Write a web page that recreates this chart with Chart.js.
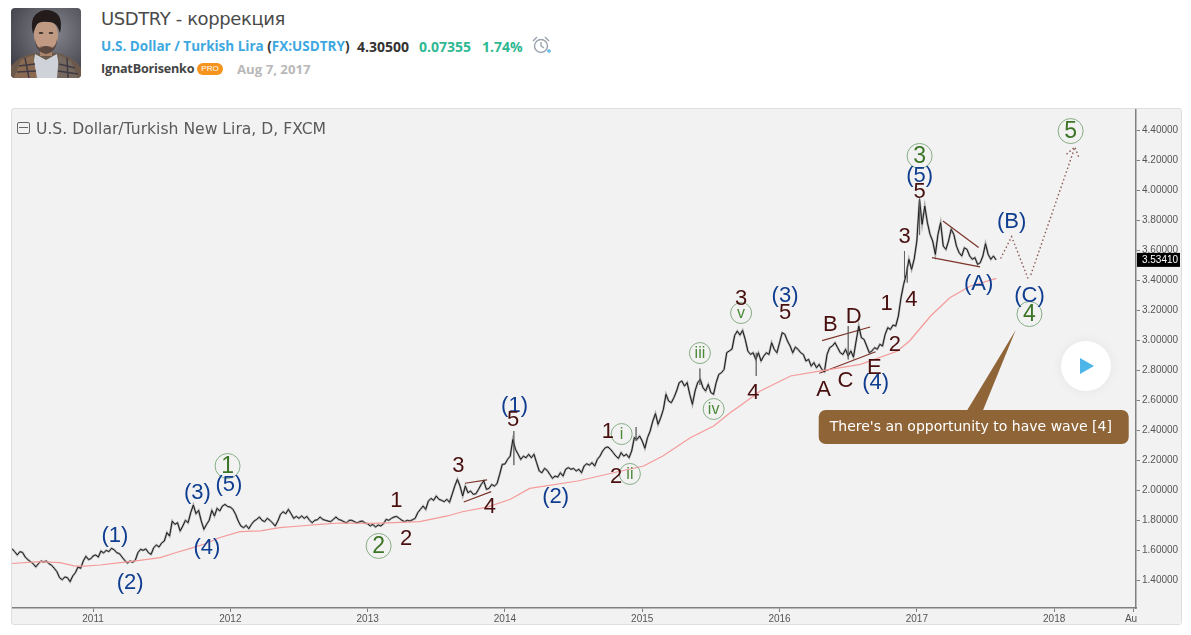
<!DOCTYPE html>
<html>
<head>
<meta charset="utf-8">
<title>USDTRY - коррекция</title>
<script src="https://cdn.jsdelivr.net/npm/chart.js@4"></script>
<style>
  html, body { margin: 0; padding: 0; background: #fff; }
  body { width: 1191px; height: 635px; position: relative; overflow: hidden; font-family: 'DejaVu Sans', sans-serif; }
  .abs { position: absolute; white-space: nowrap; }
  #avatar { left: 11px; top: 8px; width: 70px; height: 70px; border-radius: 4px; overflow: hidden; }
  #title { left: 101px; top: 8px; font-size: 18px; color: #4a4a4a; letter-spacing: -0.4px; }
  .sub { top: 37px; font-size: 13.5px; font-weight: bold; color: #333; font-family: 'Open Sans', sans-serif; }
  .sub .blue { color: #3ea8e0; }
  .big { font-size: 14px; }
  .green { color: #2fb893; }
  #user { left: 101px; top: 60px; font-size: 12.6px; font-weight: bold; color: #444; font-family: 'Open Sans', sans-serif; letter-spacing: -0.2px; }
  #pro { left: 197px; top: 63px; width: 26px; height: 12px; border-radius: 6px; background: #f7941d; color: #fff; font-size: 8px; line-height: 12px; text-align: center; font-family: 'Liberation Sans', sans-serif; }
  #when { left: 237px; top: 60px; font-size: 13.2px; font-weight: bold; color: #b8b8b8; font-family: 'Open Sans', sans-serif; }
  #alarm { left: 532px; top: 36px; }
  #panel { left: 11px; top: 108px; width: 1169px; height: 515px; background: #f2f2f2; border: 1px solid #dedede; border-radius: 3px; }
  #chart { position: absolute; left: 12px; top: 109px; }
  #collapse { left: 17px; top: 122px; width: 11px; height: 10px; border: 1px solid #666; border-radius: 2px; }
  #collapse div { position: absolute; left: 1px; right: 1px; top: 4px; height: 1px; background: #666; }
  #symbol { left: 36px; top: 120px; font-size: 15.6px; color: #5a5a5a; }
  #play { left: 1061px; top: 341px; width: 50px; height: 50px; border-radius: 25px; background: #fff; box-shadow: 0 0 12px rgba(0,0,0,0.06); }
  #play div { position: absolute; left: 19px; top: 17px; width: 0; height: 0; border-left: 14px solid #4db5e8; border-top: 8px solid transparent; border-bottom: 8px solid transparent; }
</style>
</head>
<body>
<div class="abs" id="avatar">
  <svg width="70" height="70" viewBox="0 0 70 70">
    <defs><radialGradient id="bg" cx="0.6" cy="0.35" r="0.8"><stop offset="0" stop-color="#85858f"/><stop offset="1" stop-color="#3a3a42"/></radialGradient></defs>
    <rect width="70" height="70" fill="url(#bg)"/>
    <path d="M0 70 L0 58 Q8 48 24 45 L46 45 Q62 48 70 60 L70 70Z" fill="#6b5a4c"/>
    <path d="M24 46 L35 52 L46 46 L50 70 L20 70Z" fill="#cfd2d8"/>
    <path d="M3 70 L10 52 L22 47 L26 70Z" fill="#8a6a50"/>
    <path d="M48 47 L60 53 L67 70 L46 70Z" fill="#75685e"/>
    <path d="M8 58 L24 56 M6 64 L25 63 M14 50 L18 70 M48 56 L64 60 M47 63 L67 66 M56 50 L57 70" stroke="#3f3a44" stroke-width="1.5"/>
    <ellipse cx="35" cy="27" rx="12" ry="16" fill="#c09a82"/>
    <rect x="29" y="38" width="12" height="10" fill="#a9826b"/>
    <path d="M22 26 Q17 5 34 2 Q54 2 49 25 Q46 13 37 14 Q27 13 25 18 Q23 22 22 26Z" fill="#231c1a"/>
    <path d="M24 31 Q26 42 31 39 Q35 37 39 39 Q44 42 46 31 Q46 44 35 46 Q24 44 24 31Z" fill="#5b4840"/>
    <ellipse cx="30" cy="25" rx="2.4" ry="1" fill="#3b2e2a"/><ellipse cx="40" cy="25" rx="2.4" ry="1" fill="#3b2e2a"/>
  </svg>
</div>
<div class="abs" id="title">USDTRY - коррекция</div>
<div class="abs sub" style="left:101px"><span class="blue">U.S. Dollar / Turkish Lira</span> (<span class="blue">FX:USDTRY</span>)</div>
<div class="abs sub big" style="left:357px">4.30500</div>
<div class="abs sub big green" style="left:419px">0.07355</div>
<div class="abs sub big green" style="left:482px">1.74%</div>
<div class="abs" id="alarm">
  <svg width="20" height="20" viewBox="0 0 20 20" fill="none" stroke="#9aa3ad" stroke-width="1.4">
    <circle cx="9" cy="10" r="6.5"/><path d="M9 6 V10 L12 12"/><path d="M1 5 L5 1"/><path d="M13 1 L17 5"/><path d="M15 15 H19 M17 13 V17" stroke="#5fb9e6"/>
  </svg>
</div>
<div class="abs" id="user">IgnatBorisenko</div>
<div class="abs" id="pro">PRO</div>
<div class="abs" id="when">Aug 7, 2017</div>
<div class="abs" id="panel"></div>
<canvas id="chart" width="1169" height="515"></canvas>
<div class="abs" id="collapse"><div></div></div>
<div class="abs" id="symbol">U.S. Dollar/Turkish New Lira, D, FXCM</div>
<div class="abs" id="play"><div></div></div>

<script>
// weekly closes, one list per calendar year
const price2010 = [1.609,1.589,1.567,1.589,1.584,1.553,1.536,1.522,1.509,1.487,1.509,1.527,1.52,1.527,1.509,1.498,1.478,1.456,1.416,1.402,1.42,1.416,1.389,1.427,1.449,1.487,1.478,1.527,1.558,1.536,1.544];
const price2011 = [1.56,1.567,1.553,1.593,1.58,1.598,1.589,1.611,1.602,1.582,1.576,1.553,1.531,1.513,1.527,1.518,1.531,1.582,1.604,1.598,1.607,1.582,1.571,1.616,1.633,1.62,1.647,1.66,1.716,1.693,1.793,1.771,1.782,1.727,1.76,1.798,1.782,1.849,1.9,1.842,1.864,1.793,1.738,1.771,1.798,1.864,1.827,1.878,1.86,1.893,1.904,1.89];
const price2012 = [1.886,1.871,1.838,1.793,1.76,1.749,1.764,1.742,1.771,1.793,1.804,1.82,1.798,1.789,1.811,1.798,1.78,1.76,1.793,1.838,1.855,1.842,1.871,1.842,1.811,1.824,1.811,1.827,1.811,1.824,1.798,1.782,1.798,1.802,1.82,1.804,1.798,1.793,1.789,1.804,1.82,1.804,1.798,1.789,1.78,1.798,1.798,1.789,1.78,1.789,1.793,1.78];
const price2013 = [1.775,1.76,1.771,1.753,1.767,1.76,1.775,1.804,1.798,1.811,1.82,1.824,1.811,1.798,1.789,1.798,1.793,1.802,1.811,1.849,1.871,1.893,1.871,1.926,1.944,1.931,1.96,1.938,1.931,1.922,1.938,1.918,1.971,2.026,2.071,2.026,1.96,2.026,1.982,1.993,1.971,1.975,2.004,2.037,2.06,2.004,2.011,2.037,2.026,2.042,2.104,2.171];
const price2014 = [2.173,2.204,2.226,2.337,2.271,2.238,2.204,2.226,2.215,2.238,2.215,2.238,2.182,2.127,2.115,2.144,2.131,2.104,2.078,2.093,2.086,2.115,2.093,2.138,2.149,2.138,2.144,2.127,2.138,2.115,2.16,2.175,2.166,2.182,2.16,2.204,2.226,2.26,2.282,2.287,2.271,2.249,2.226,2.211,2.249,2.226,2.238,2.215,2.26,2.349,2.337,2.36];
const price2015 = [2.326,2.278,2.349,2.393,2.46,2.509,2.438,2.482,2.538,2.638,2.593,2.582,2.616,2.66,2.716,2.727,2.693,2.716,2.638,2.571,2.66,2.716,2.737,2.682,2.66,2.704,2.649,2.638,2.716,2.771,2.782,2.804,2.916,2.927,2.94,3.03,3.06,3.033,3.064,3.004,2.926,2.904,2.915,2.871,2.915,2.86,2.893,2.915,2.904,2.982,2.938,2.915];
const price2016 = [2.982,3.049,3.038,2.993,2.96,2.915,2.953,2.938,2.915,2.904,2.86,2.871,2.826,2.849,2.815,2.838,2.804,2.789,2.904,2.949,2.96,2.982,2.949,2.915,2.904,2.938,2.893,2.927,2.886,2.993,3.093,3.015,3.004,2.96,2.915,2.927,2.949,2.938,2.971,2.96,3.038,3.082,3.071,3.1,3.093,3.16,3.282,3.371,3.438,3.538,3.471,3.54];
const price2017 = [3.66,3.937,3.771,3.893,3.782,3.704,3.66,3.571,3.704,3.782,3.626,3.604,3.66,3.738,3.704,3.626,3.582,3.56,3.615,3.604,3.56,3.538,3.549,3.504,3.515,3.56,3.642,3.571,3.538,3.56,3.5341];

// long wicks that stick out of the weekly line
const wickYears = [2014.065,2014.955,2015.42,2015.83,2016.5,2016.91,2016.93,2017.02];
const wickTops = [2.393,2.42,2.81,2.915,3.093,3.593,3.49,3.944];
const wickBottoms = [2.166,2.326,2.7,2.76,2.87,3.415,3.382,3.7];

// 200 day average
const averageYears = [2010.41,2010.61,2010.76,2010.87,2010.94,2011.05,2011.2,2011.34,2011.49,2011.6,2011.71,2011.82,2011.92,2012.07,2012.22,2012.36,2012.51,2012.65,2012.8,2013.04,2013.38,2013.58,2013.69,2013.87,2014.04,2014.18,2014.53,2014.79,2015.01,2015.15,2015.35,2015.52,2015.64,2015.71,2015.86,2016.08,2016.29,2016.59,2016.86,2016.95,2017.1,2017.24,2017.39,2017.58];
const averageValues = [1.51,1.522,1.516,1.493,1.493,1.5,1.516,1.531,1.549,1.582,1.611,1.642,1.682,1.722,1.727,1.749,1.76,1.771,1.78,1.777,1.789,1.827,1.855,1.886,1.938,2.011,2.06,2.115,2.16,2.226,2.349,2.427,2.515,2.56,2.66,2.76,2.793,2.838,2.927,2.997,3.16,3.282,3.36,3.411];

// drawn trendlines, start and end of each
const trendYears = [[2013.71,2013.87],[2013.70,2013.90],[2016.31,2016.66],[2016.29,2016.70],[2017.19,2017.45],[2017.11,2017.46]];
const trendPrices = [[2.045,2.067],[1.92,1.989],[2.996,3.087],[2.778,2.922],[3.794,3.616],[3.549,3.487]];

// dotted projection and its arrow head
const forecastYears = [2017.61,2017.69,2017.81,null,2017.83,2018.15];
const forecastPrices = [3.543,3.689,3.409,null,3.434,4.283];
const arrowYears = [2018.09,2018.15,2018.18];
const arrowPrices = [4.238,4.287,4.216];

// wave labels
const blueLabels = ['(1)','(2)','(3)','(4)','(5)','(1)','(2)','(3)','(4)','(5)','(A)','(B)','(C)'];
const blueYears = [2011.16,2011.27,2011.76,2011.83,2011.99,2014.07,2014.37,2016.04,2016.70,2017.02,2017.45,2017.69,2017.82];
const bluePrices = [1.70,1.387,1.987,1.62,2.04,2.567,1.96,3.30,2.72,4.10,3.38,3.793,3.30];

const brownLabels = ['1','2','3','4','5','1','2','3','4','5','A','B','C','D','E','1','2','3','4','5'];
const brownYears = [2013.21,2013.28,2013.66,2013.89,2014.06,2014.75,2014.81,2015.72,2015.81,2016.04,2016.32,2016.37,2016.48,2016.54,2016.69,2016.78,2016.84,2016.91,2016.96,2017.02];
const brownPrices = [1.933,1.68,2.167,1.893,2.473,2.393,2.093,3.28,2.653,3.187,2.673,3.107,2.733,3.16,2.82,3.247,2.973,3.693,3.273,3.993];

const circleLabels = ['1','2','3','4','5'];
const circleYears = [2011.98,2013.08,2017.02,2017.82,2018.12];
const circlePrices = [2.16,1.627,4.227,3.173,4.393];

const smallLabels = ['i','ii','iii','iv','v'];
const smallYears = [2014.85,2014.91,2015.42,2015.52,2015.72];
const smallPrices = [2.373,2.107,2.913,2.54,3.18];

const noteText = "There's an opportunity to have wave [4]";
const noteYear = 2017.72;
const notePrice = 3.067;

const priceTicks = [1.4,1.6,1.8,2.0,2.2,2.4,2.6,2.8,3.0,3.2,3.4,3.6,3.8,4.0,4.2,4.4];
const yearTicks = [2011,2012,2013,2014,2015,2016,2017,2018,2018.58];
const yearTickLabels = ['2011','2012','2013','2014','2015','2016','2017','2018','Aug'];
const lastPrice = 3.5341;

function toPoints(years, values) {
  return years.map((year, i) => ({ x: year, y: values[i] }));
}

function yearPoints(year, values, count) {
  return values.map((value, i) => ({ x: year + i / count, y: value }));
}

const pricePoints = [
  ...yearPoints(2010.41, price2010, 52),
  ...yearPoints(2011, price2011, price2011.length),
  ...yearPoints(2012, price2012, price2012.length),
  ...yearPoints(2013, price2013, price2013.length),
  ...yearPoints(2014, price2014, price2014.length),
  ...yearPoints(2015, price2015, price2015.length),
  ...yearPoints(2016, price2016, price2016.length),
  ...yearPoints(2017, price2017, 52),
];

const wickPoints = [];
wickYears.forEach((year, i) => {
  wickPoints.push({ x: year, y: wickTops[i] }, { x: year, y: wickBottoms[i] }, { x: year, y: null });
});

function lineSet(label, data, color, width, dash) {
  return {
    label: label,
    data: data,
    borderColor: color,
    borderWidth: width,
    borderDash: dash || [],
    pointRadius: 0,
    tension: 0,
    fill: false,
    spanGaps: false,
  };
}

const datasets = [
  lineSet('average', toPoints(averageYears, averageValues), '#f59a9a', 1.2),
  lineSet('wicks', wickPoints, 'rgba(90,90,90,0.6)', 1),
  lineSet('price shadow', pricePoints, 'rgba(40,40,40,0.35)', 2.2),
  lineSet('price', pricePoints, '#111', 1),
];
trendYears.forEach((years, i) => {
  datasets.push(lineSet('trend ' + i, toPoints(years, trendPrices[i]), '#7d3328', 1.2));
});
datasets.push(lineSet('forecast', toPoints(forecastYears, forecastPrices), '#8c5b55', 1.4, [1.5, 2.5]));
datasets.push(lineSet('arrow', toPoints(arrowYears, arrowPrices), '#8c5b55', 1.4, [1.5, 2.5]));

function drawLabels(ctx, xScale, yScale, labels, years, prices, font, color) {
  ctx.font = font;
  ctx.fillStyle = color;
  ctx.textAlign = 'center';
  ctx.textBaseline = 'middle';
  labels.forEach((label, i) => {
    ctx.fillText(label, xScale.getPixelForValue(years[i]), yScale.getPixelForValue(prices[i]) + 1);
  });
}

function drawCircles(ctx, xScale, yScale, years, prices, radius) {
  ctx.strokeStyle = '#86ad86';
  ctx.lineWidth = 1;
  years.forEach((year, i) => {
    ctx.beginPath();
    ctx.arc(xScale.getPixelForValue(year), yScale.getPixelForValue(prices[i]), radius, 0, Math.PI * 2);
    ctx.stroke();
  });
}

function drawNote(ctx, xScale, yScale) {
  const tipX = xScale.getPixelForValue(noteYear);
  const tipY = yScale.getPixelForValue(notePrice);
  const left = tipX - 197, top = tipY + 80, width = 310, height = 34;
  ctx.fillStyle = '#8f6437';
  ctx.beginPath();
  ctx.roundRect(left, top, width, height, 7);
  ctx.fill();
  ctx.beginPath();
  ctx.moveTo(tipX, tipY);
  ctx.lineTo(tipX - 33, top + 1);
  ctx.lineTo(tipX - 49, top + 1);
  ctx.closePath();
  ctx.fill();
  ctx.font = "14px 'DejaVu Sans'";
  ctx.fillStyle = '#fff';
  ctx.textAlign = 'left';
  ctx.textBaseline = 'middle';
  ctx.fillText(noteText, left + 11, top + height / 2);
}

const overlays = {
  id: 'overlays',
  afterDraw(chart) {
    const ctx = chart.ctx;
    const xScale = chart.scales.x;
    const yScale = chart.scales.y;
    ctx.save();

    drawCircles(ctx, xScale, yScale, circleYears, circlePrices, 12.5);
    drawCircles(ctx, xScale, yScale, smallYears, smallPrices, 10.5);
    drawLabels(ctx, xScale, yScale, blueLabels, blueYears, bluePrices, "22px 'Liberation Sans'", '#0f3d8f');
    drawLabels(ctx, xScale, yScale, brownLabels, brownYears, brownPrices, "22px 'Liberation Sans'", '#480f0f');
    drawLabels(ctx, xScale, yScale, circleLabels, circleYears, circlePrices, "23px 'Liberation Sans'", '#3c7527');
    drawLabels(ctx, xScale, yScale, smallLabels, smallYears, smallPrices, "16px 'Liberation Sans'", '#4c8a3a');
    drawNote(ctx, xScale, yScale);

    // the last tick label is cut off by the price axis
    ctx.fillStyle = '#f2f2f2';
    ctx.fillRect(xScale.right + 1, xScale.top + 2, 45, xScale.height);

    // last price tag
    const tagY = yScale.getPixelForValue(lastPrice);
    ctx.fillStyle = '#000';
    ctx.fillRect(yScale.left + 1, tagY - 7, 43, 14);
    ctx.font = "10px 'Liberation Sans'";
    ctx.fillStyle = '#fff';
    ctx.textAlign = 'center';
    ctx.textBaseline = 'middle';
    ctx.fillText(lastPrice.toFixed(5), yScale.left + 24, tagY + 0.5);
    ctx.restore();
  },
};

new Chart(document.getElementById('chart'), {
  type: 'line',
  data: { datasets: datasets },
  plugins: [overlays],
  options: {
    responsive: false,
    animation: false,
    events: [],
    layout: { padding: 0 },
    plugins: { legend: { display: false }, tooltip: { enabled: false } },
    scales: {
      x: {
        type: 'linear',
        min: 2010.41,
        max: 2018.596,
        grid: { drawOnChartArea: false, tickLength: 4, tickColor: '#808080' },
        border: { color: '#808080', width: 1.5 },
        afterBuildTicks(axis) { axis.ticks = yearTicks.map((value) => ({ value: value })); },
        afterFit(axis) {
          axis.height = 16;
          axis.paddingLeft = 0;
          axis.paddingRight = 0;
        },
        ticks: {
          autoSkip: false,
          maxRotation: 0,
          padding: 1,
          color: '#555',
          font: { family: 'Liberation Sans', size: 10 },
          callback(value) { return yearTickLabels[yearTicks.indexOf(value)]; },
        },
      },
      y: {
        position: 'right',
        min: 1.2134,
        max: 4.54,
        grid: { drawOnChartArea: false, tickLength: 4, tickColor: '#808080' },
        border: { color: '#808080', width: 1.5 },
        afterBuildTicks(axis) { axis.ticks = priceTicks.map((value) => ({ value: value })); },
        afterFit(axis) {
          axis.width = 45;
          axis.paddingTop = 0;
          axis.paddingBottom = 0;
        },
        ticks: {
          autoSkip: false,
          padding: 2,
          color: '#555',
          font: { family: 'Liberation Sans', size: 10 },
          callback(value) { return value.toFixed(5); },
        },
      },
    },
  },
});
</script>
</body>
</html>
